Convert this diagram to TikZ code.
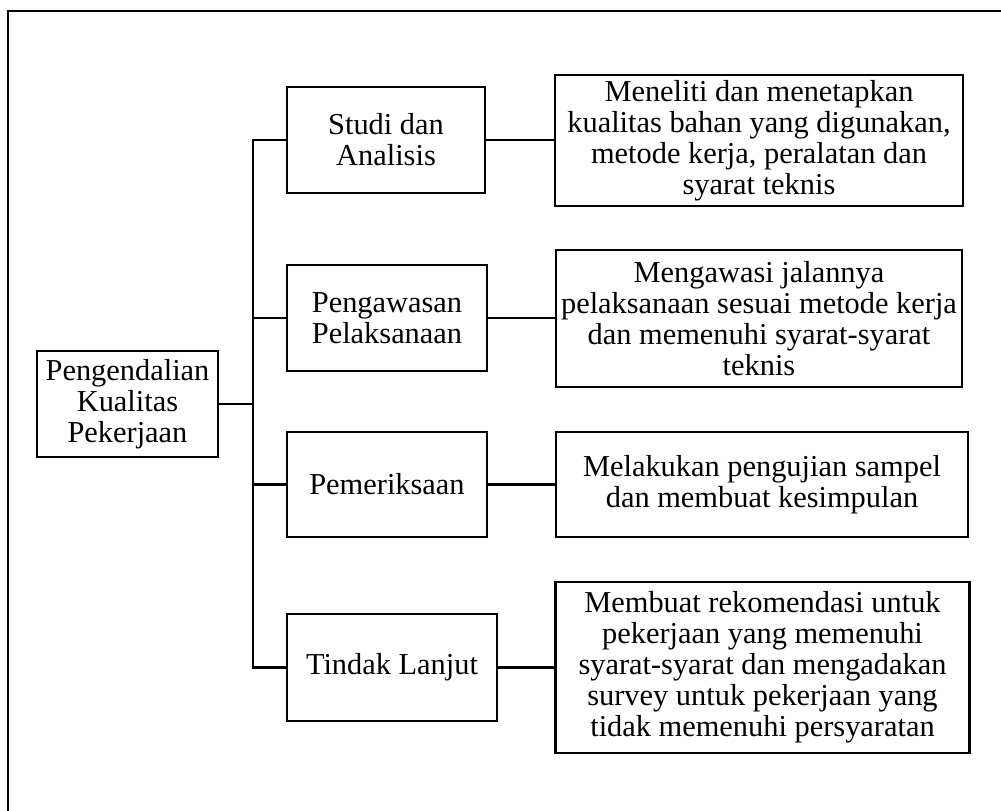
\documentclass[tikz,border=0pt]{standalone}
\usepackage{fontspec}
\setmainfont{Liberation Serif}
\usepackage{tikz}
\usetikzlibrary{calc}

\begin{document}
\begin{tikzpicture}[
  x=0.75pt, y=-0.75pt,
  every node/.style={font=\fontsize{22.8}{23.25}\selectfont},
  box/.style={
    rectangle, draw=black, line width=1.8pt, align=center,
    inner sep=2pt
  },
  headbox/.style={box, minimum width=135.75pt, minimum height=79.5pt},
  stagebox/.style={box, minimum width=150pt, minimum height=79.5pt},
  notebox/.style={box, minimum width=306pt},
  conn/.style={black, line width=1.8pt}
]
\useasboundingbox (0,0) rectangle (1001,811);
\clip (0,0) rectangle (1001,811);
\draw[line width=1.8pt] (8,11) rectangle (1020,830);

\node[headbox] (pk) at (127.5,404) {Pengendalian\\Kualitas\\Pekerjaan};

\node[stagebox, minimum width=148.5pt] (studi) at (386,140) {Studi dan\\Analisis};
\node[stagebox] (awas) at (387,318) {Pengawasan\\Pelaksanaan};
\node[stagebox, minimum height=78.75pt] (periksa) at (387,484.5) {Pemeriksaan};
\node[stagebox, minimum width=157.5pt, minimum height=80.25pt] (tindak) at (392,667.5) {Tindak Lanjut};

\node[notebox, minimum height=98.25pt] (r1) at (759,140.5) {Meneliti dan menetapkan\\kualitas bahan yang digunakan,\\metode kerja, peralatan dan\\syarat teknis};
\node[notebox, minimum width=304.5pt, minimum height=102.75pt] (r2) at (759,318.5) {Mengawasi jalannya\\pelaksanaan sesuai metode kerja\\dan memenuhi syarat-syarat\\teknis};
\node[notebox, minimum width=309pt, minimum height=78.75pt] (r3) at (762,484.5) {Melakukan pengujian sampel\\dan membuat kesimpulan};
\node[notebox, minimum width=310.5pt, minimum height=128.25pt] (r4) at (762.5,667.5) {Membuat rekomendasi untuk\\pekerjaan yang memenuhi\\syarat-syarat dan mengadakan\\survey untuk pekerjaan yang\\tidak memenuhi persyaratan};

\coordinate (trunk) at (253,0);
\draw[conn] (pk.east) -- (pk.east -| trunk);
\draw[conn] (studi.west) -- (studi.west -| trunk) -- (tindak.west -| trunk) -- (tindak.west);
\draw[conn] (awas.west -| trunk) -- (awas.west);
\draw[conn] (periksa.west -| trunk) -- (periksa.west);

\foreach \m/\r in {studi/r1, awas/r2, periksa/r3, tindak/r4}
  \draw[conn] (\m.east) -- (\m.east -| \r.west);

\end{tikzpicture}
\end{document}
